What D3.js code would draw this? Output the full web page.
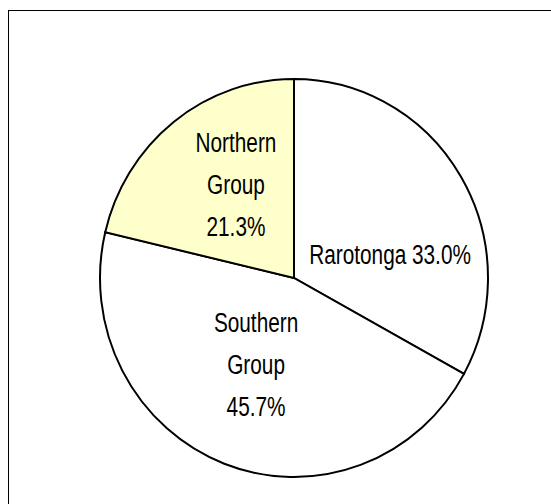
<html>
    <head>
        <style>
            body { margin: 0; background: #fff; }
            .chart text {
                fill: #000;
                font-family: "Liberation Sans", Arial, sans-serif;
                font-size: 27px;
                text-anchor: middle;
            }
            .chart .slice {
                stroke: #000;
                stroke-width: 2px;
                vector-effect: non-scaling-stroke;
            }
        </style>
    </head>
    <body>
        <svg class="chart" width="551" height="504"></svg>
        <script src="https://d3js.org/d3.v7.min.js"></script>
        <script>
            // values
            var regions = ["Rarotonga", "Southern Group", "Northern Group"];
            var shares = [33.0, 45.7, 21.3];
            var labelLines = [["Rarotonga 33.0%"], ["Southern", "Group", "45.7%"], ["Northern", "Group", "21.3%"]];
            var fills = ["#ffffff", "#ffffff", "#ffffcc"];

            var width = 551, height = 504;
            var cx = 294, cy = 278;
            var rx = 194, ry = 199;
            var lineHeight = 42;
            var narrow = 0.77;   // no Arial Narrow here, so squeeze Liberation Sans
            // small nudges so labels sit where the original placed them
            var labelShift = [[10, 27], [-2, -7], [4, -15]];

            var chart = d3.select('.chart');

            chart.append('rect')
                .attr('x', 8.5)
                .attr('y', 10.5)
                .attr('width', 600)
                .attr('height', 600)
                .attr('fill', 'none')
                .attr('stroke', '#000')
                .attr('stroke-width', 1);

            var pie = d3.pie().sort(null).value(function(d) { return d; });
            var arcs = pie(shares);

            var arc = d3.arc().innerRadius(0).outerRadius(rx);
            var labelArc = d3.arc().innerRadius(100).outerRadius(100);

            var g = chart.append('g')
                .attr('transform', 'translate(' + cx + ',' + cy + ') scale(1,' + (ry / rx) + ')');

            g.selectAll('path')
                .data(arcs)
                .enter()
                .append('path')
                .attr('class', 'slice')
                .attr('d', arc)
                .style('fill', function(d, i) { return fills[i]; });

            var labels = chart.append('g')
                .attr('transform', 'translate(' + cx + ',' + cy + ')');

            labels.selectAll('text')
                .data(arcs)
                .enter()
                .append('text')
                .attr('transform', function(d, i) {
                    var c = labelArc.centroid(d);
                    return 'translate(' + (c[0] + labelShift[i][0]) + ',' + (c[1] + labelShift[i][1]) + ') scale(' + narrow + ',1)';
                })
                .each(function(d, i) {
                    var lines = labelLines[i];
                    var t = d3.select(this);
                    lines.forEach(function(line, j) {
                        t.append('tspan')
                            .attr('x', 0)
                            .attr('y', (j - (lines.length - 1) / 2) * lineHeight)
                            .attr('dy', '0.35em')
                            .text(line);
                    });
                });
        </script>
    </body>
</html>
